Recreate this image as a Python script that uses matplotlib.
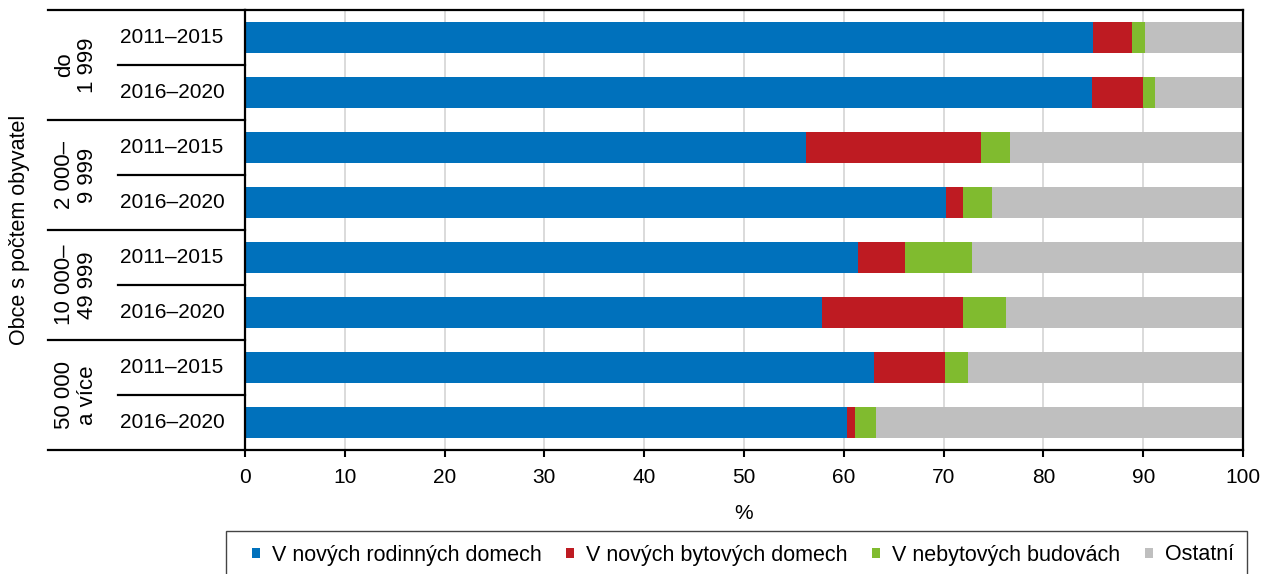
import matplotlib
matplotlib.use("Agg")
import matplotlib.pyplot as plt
from matplotlib.patches import Patch, Rectangle
import numpy as np

plt.rcParams['font.family'] = ['Liberation Sans', 'DejaVu Sans']

groups = ["do\n1 999", "2 000–\n9 999", "10 000–\n49 999", "50 000\na více"]
periods = ["2011–2015", "2016–2020"]
series_names = ["V nových rodinných domech", "V nových bytových domech",
                "V nebytových budovách", "Ostatní"]
rodinne = [85.0, 84.9, 56.2, 70.2, 61.4, 57.8, 63.0, 60.3]
bytove = [3.9, 5.1, 17.5, 1.7, 4.7, 14.1, 7.1, 0.8]
nebytove = [1.3, 1.2, 3.0, 2.9, 6.7, 4.4, 2.3, 2.1]
ostatni = [100 - a - b - c for a, b, c in zip(rodinne, bytove, nebytove)]
colors = ["#0071bc", "#be1b22", "#80bb2f", "#bfbfbf"]

W, H = 1264, 574
fig = plt.figure(figsize=(W / 100, H / 100), dpi=100)
ax_l, ax_r, ax_t, ax_b = 245, 1243, 10, 450
ax = fig.add_axes([ax_l / W, (H - ax_b) / H, (ax_r - ax_l) / W, (ax_b - ax_t) / H])

n = len(rodinne)
y = np.arange(n)
left = np.zeros(n)
for vals, col, name in zip([rodinne, bytove, nebytove, ostatni], colors, series_names):
    ax.barh(y, vals, left=left, height=0.56, color=col, label=name, zorder=2)
    left = left + np.array(vals)

ax.set_xlim(0, 100)
ax.set_ylim(n - 0.5, -0.5)
ax.set_xticks(range(0, 101, 10))
ax.tick_params(axis='x', labelsize=15, length=5, width=1.5, direction='out', pad=8, colors='black')
ax.set_yticks([])
ax.grid(axis='x', color='#d4d4d4', linewidth=1.2, zorder=0)
ax.set_axisbelow(True)
for s in ['left', 'bottom', 'top', 'right']:
    ax.spines[s].set_color('black')
    ax.spines[s].set_linewidth(1.6)
ax.set_xlabel("%", fontsize=15, labelpad=12)

# multi-level labels on the left
tr = ax.get_yaxis_transform()
ax_w = ax_r - ax_l
def xf(px):
    return (px - ax_l) / ax_w

for b in np.arange(-0.5, n, 2):
    ax.plot([xf(48), 0], [b, b], color='black', lw=1.6, transform=tr, clip_on=False)
for b in np.arange(0.5, n, 2):
    ax.plot([xf(118), 0], [b, b], color='black', lw=1.6, transform=tr, clip_on=False)

for i in range(n):
    ax.text(xf(172), i, periods[i % 2], transform=tr, ha='center', va='center', fontsize=15)
for g, name in enumerate(groups):
    ax.text(xf(76), 2 * g + 0.5, name, transform=tr, ha='center', va='center',
            rotation=90, fontsize=16, linespacing=1.15)
ax.text(xf(20), (n - 1) / 2, "Obce s počtem obyvatel", transform=tr, ha='center',
        va='center', rotation=90, fontsize=15.5)

# legend frame
fig.patches.append(Rectangle((226 / W, -0.05), (1247 - 226) / W, (H - 531) / H + 0.05,
                             transform=fig.transFigure, facecolor='none',
                             edgecolor='#444444', linewidth=1.0))
handles = [Patch(facecolor=c, edgecolor='none') for c in colors]
leg = fig.legend(handles, series_names, loc='center left',
                 bbox_to_anchor=(252 / W, 1 - 555 / H), ncol=4, fontsize=15.5,
                 frameon=False, borderpad=0, borderaxespad=0,
                 handlelength=0.37, handleheight=0.37, handletextpad=0.55,
                 columnspacing=1.15)

fig.savefig("out.png", dpi=100)
